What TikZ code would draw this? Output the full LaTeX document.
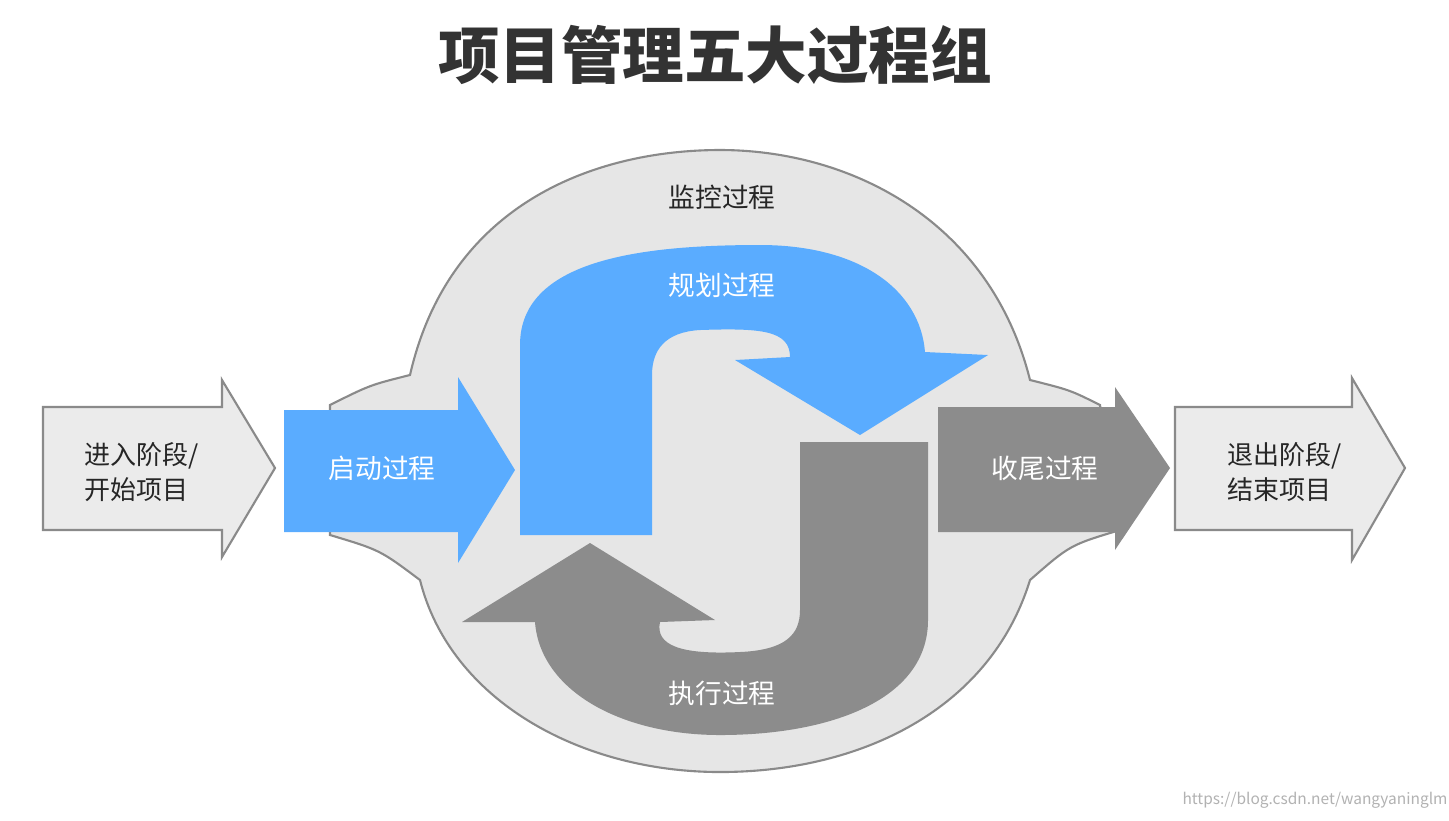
\documentclass[tikz,border=0pt]{standalone}
\usepackage{fontspec}
\setmainfont{Noto Sans CJK SC}
\definecolor{bluearrow}{HTML}{5AACFF}
\definecolor{grayarrow}{HTML}{8C8C8C}
\definecolor{lightarrow}{HTML}{EBEBEB}
\definecolor{blobfill}{HTML}{E6E6E6}
\definecolor{edgegray}{HTML}{8A8A8A}
\definecolor{titlegray}{HTML}{333333}
\tikzset{
  outerarrow/.style={fill=lightarrow, draw=edgegray, line width=0.6pt},
  bluepart/.style={fill=bluearrow},
  graypart/.style={fill=grayarrow},
  whitelabel/.style={text=white, font=\fontsize{7.6}{9}\selectfont},
  darklabel/.style={text=black!85, font=\fontsize{7.4}{10}\selectfont, align=left}
}
\begin{document}
\begin{tikzpicture}[x=0.01cm,y=-0.01cm]
        \useasboundingbox[fill=white] (0,0) rectangle (1449,820);

        % Title
        \node[text=titlegray, font=\fontsize{17.5}{20}\selectfont\bfseries] (title) at (715,55) {项目管理五大过程组};

        % Monitoring blob
        \draw[fill=blobfill, draw=edgegray, line width=0.6pt] (330,405) .. controls (370,385) .. (410,375)
          .. controls (450,200) and (600,150) .. (720,150) .. controls (850,150) and (990,220) .. (1030,380)
          .. controls (1070,390) .. (1100,405) -- (1120,530) .. controls (1070,545) .. (1030,580)
          .. controls (990,710) and (860,772) .. (720,772) .. controls (580,772) and (450,700) .. (420,580)
          .. controls (380,550) .. (330,535) -- cycle;
        \node[text=black!85, font=\fontsize{7.6}{9}\selectfont] (monitor) at (722,197) {监控过程};

        % Entry and exit arrows
        \draw[outerarrow] (43,407) -- (222,407) -- (222,380) -- (275,468) -- (222,557) -- (222,530) -- (43,530) -- cycle;
        \draw[outerarrow] (1175,407) -- (1352,407) -- (1352,378) -- (1405,468) -- (1352,560) -- (1352,530) -- (1175,530) -- cycle;
        \node[darklabel] (enter) at (142,472) {进入阶段/\\开始项目};
        \node[darklabel] (leave) at (1285,472) {退出阶段/\\结束项目};

        % Initiating
        \fill[bluepart] (284,410) -- (458,410) -- (458,377) -- (515,470) -- (458,563) -- (458,532) -- (284,532) -- cycle;
        \node[whitelabel] (start) at (382,468) {启动过程};

        % Planning
        \fill[bluepart] (520,535) -- (520,345) .. controls (520,260) and (640,245) .. (760,245)
          .. controls (860,245) and (920,290) .. (925,352) -- (988,355) -- (860,435) -- (735,360) -- (790,357)
          .. controls (790,330) and (760,328) .. (700,330) .. controls (665,332) and (652,350) .. (652,375)
          -- (652,535) -- cycle;
        \node[whitelabel] (plan) at (722,285) {规划过程};

        % Executing
        \fill[graypart] (928,442) -- (928,620) .. controls (928,700) and (830,735) .. (720,735)
          .. controls (620,735) and (540,690) .. (535,622) -- (462,622) -- (590,543) -- (715,620) -- (660,622)
          .. controls (655,645) and (680,655) .. (740,652) .. controls (785,650) and (800,635) .. (800,610)
          -- (800,442) -- cycle;
        \node[whitelabel] (exec) at (722,693) {执行过程};

        % Closing
        \fill[graypart] (938,407) -- (1115,407) -- (1115,387) -- (1170,468) -- (1115,550) -- (1115,532) -- (938,532) -- cycle;
        \node[whitelabel] (close) at (1045,468) {收尾过程};

        % Watermark
        \node[text=black!30, font=\fontsize{4.4}{5}\selectfont] (mark) at (1315,800) {https://blog.csdn.net/wangyaninglm};
      \end{tikzpicture}
\end{document}
